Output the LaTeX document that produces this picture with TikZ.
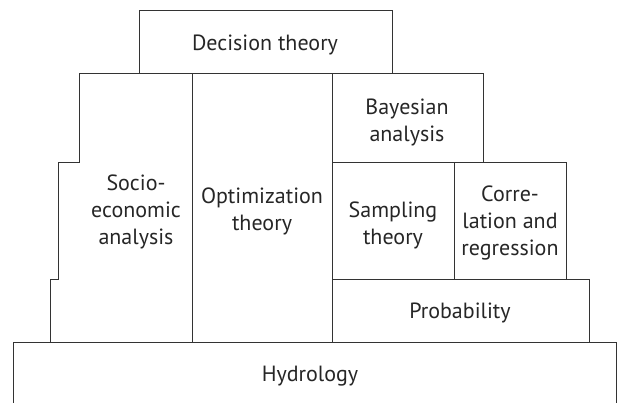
\documentclass[tikz,border=0pt]{standalone}
\usepackage{fontspec}
\setmainfont{PT Sans}
\begin{document}
\begin{tikzpicture}[x=1pt,y=-1pt,
  edge/.style={draw=black!80,line width=1pt,line join=miter},
  label/.style={font=\fontsize{22}{27}\selectfont,align=center,text=black!85,inner sep=0pt}]
\useasboundingbox (0,0) rectangle (617,403);
% boxes
\path[edge] (139,74) -- (139,11) -- (392,11) -- (392,74);
\path[edge] (192,342) -- (192,74) -- (79,74) -- (79,163) -- (58,163) -- (58,279) -- (50,279) -- (50,342);
\path[edge] (192,74) -- (332,74) -- (332,342);
\path[edge] (332,74) rectangle (483,163);
\path[edge] (332,163) rectangle (454,279);
\path[edge] (454,163) rectangle (566,279);
\path[edge] (332,279) rectangle (589,342);
\path[edge] (13,404) -- (13,342) -- (616,342) -- (616,404);
% labels
\node[label] (dec) at (265,45) {Decision theory};
\node[label] (soc) at (136,212) {Socio-\\economic\\analysis};
\node[label] (opt) at (262,211) {Optimization\\theory};
\node[label] (bay) at (407,122) {Bayesian\\analysis};
\node[label] (sam) at (393,225) {Sampling\\theory};
\node[label] (cor) at (510,223) {Corre-\\lation and\\regression};
\node[label] (pro) at (460,313) {Probability};
\node[label] (hyd) at (310,376) {Hydrology};
\end{tikzpicture}
\end{document}
